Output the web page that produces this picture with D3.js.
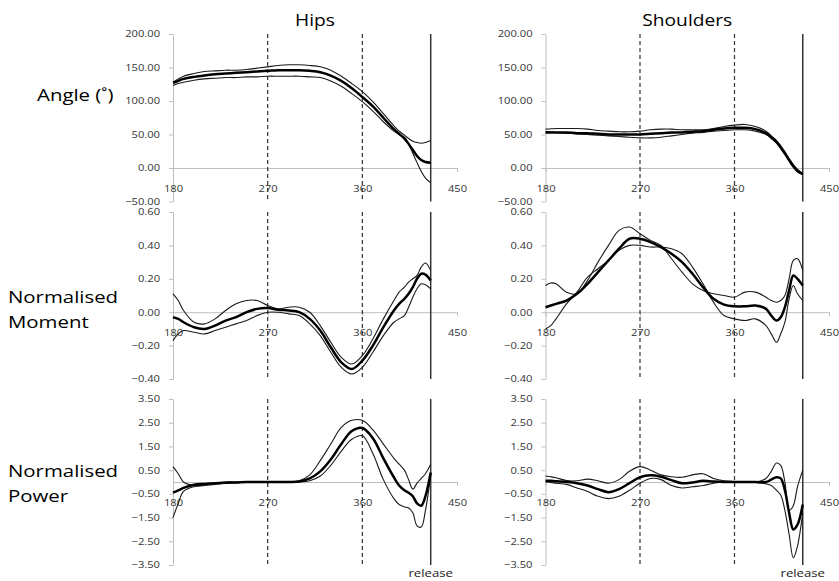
<!DOCTYPE html>
<html>
<head>
<meta charset="utf-8">
<script src="https://cdn.jsdelivr.net/npm/d3@7"></script>
<style>
  body { margin: 0; background: #fff; }
  text { font-family: "Open Sans", sans-serif; }
</style>
</head>
<body>
<div id="chart"></div>
<script>
// 曲柄角 (deg)
const phase = [180,185,190,200,210,220,230,240,250,260,270,280,290,300,310,320,330,340,350,360,370,380,390,395,400,404,408,412,416,420,425];

// 髋关节角度
const hipAngleMean  = [127,130,133,136,138,140,141,142,143,144,145,146,146,146,145,143,138,130,119,106,92,75,58,51,44,36,27,18,12,9,8];
const hipAngleUpper = [128,133,137,141,144,145,146,146,147,149,151,153,154,154,153,151,146,137,126,114,99,81,63,55,49,44,40,38,37,38,41];
const hipAngleLower = [123,126,128,131,133,134,135,135,136,136,137,137,137,137,136,135,130,122,111,99,85,69,55,50,46,36,22,8,-5,-15,-22];
// 肩关节角度
const shoulderAngleMean  = [53,53,53,53,52,52,51,50,50,50,50,51,52,53,53,54,55,57,59,60,60,58,52,46,39,31,22,12,3,-4,-9];
const shoulderAngleUpper = [58,58.5,59,59,59,58,56,55,54,54,55,57,58,58,57,57,57,59,62,64,65,62,55,48,41,33,24,14,5,-2,-8];
const shoulderAngleLower = [54,54,53,52,51,50,49,48,47,46,45,45,46,48,50,52,53,55,56,57,57,55,50,44,37,29,20,10,1,-6,-10];

// 髋关节力矩
const hipMomentMean  = [-0.03,-0.04,-0.06,-0.09,-0.10,-0.08,-0.05,-0.03,0.00,0.02,0.025,0.015,0.01,0.00,-0.04,-0.11,-0.21,-0.30,-0.34,-0.29,-0.20,-0.09,0.01,0.05,0.08,0.11,0.15,0.20,0.23,0.225,0.19];
const hipMomentUpper = [0.11,0.07,0.01,-0.06,-0.07,-0.04,0.01,0.05,0.07,0.07,0.04,0.02,0.03,0.03,0.00,-0.08,-0.18,-0.27,-0.31,-0.26,-0.16,-0.04,0.07,0.12,0.15,0.18,0.20,0.22,0.27,0.295,0.25];
const hipMomentLower = [-0.17,-0.13,-0.11,-0.12,-0.13,-0.11,-0.09,-0.07,-0.05,-0.02,0.00,0.00,-0.01,-0.02,-0.07,-0.14,-0.24,-0.33,-0.37,-0.33,-0.24,-0.14,-0.06,-0.04,-0.02,0.03,0.09,0.14,0.17,0.165,0.14];
// 肩关节力矩
const shoulderMomentMean  = [0.03,0.04,0.05,0.07,0.11,0.17,0.24,0.31,0.38,0.44,0.44,0.42,0.39,0.35,0.30,0.23,0.15,0.08,0.045,0.035,0.035,0.04,0.02,-0.02,-0.05,-0.03,0.03,0.13,0.22,0.20,0.16];
const shoulderMomentUpper = [0.16,0.175,0.17,0.12,0.11,0.19,0.30,0.40,0.49,0.51,0.47,0.43,0.40,0.32,0.24,0.17,0.13,0.11,0.10,0.09,0.12,0.12,0.09,0.07,0.06,0.07,0.10,0.20,0.31,0.32,0.25];
const shoulderMomentLower = [-0.10,-0.08,-0.04,0.05,0.12,0.21,0.26,0.31,0.37,0.40,0.40,0.39,0.39,0.38,0.35,0.27,0.17,0.06,-0.02,-0.04,-0.05,-0.04,-0.08,-0.13,-0.18,-0.13,-0.06,0.08,0.16,0.11,0.07];

// 髋关节功率
const hipPowerMean  = [-0.45,-0.35,-0.25,-0.12,-0.08,-0.05,-0.03,-0.02,0,0,0,0,0,0.02,0.15,0.45,0.95,1.6,2.15,2.28,1.85,1.0,0.2,-0.15,-0.35,-0.45,-0.6,-0.9,-1.0,-0.6,0.4];
const hipPowerUpper = [0.65,0.35,0.0,-0.15,-0.12,-0.05,0,0,0,0,0,0,0,0.05,0.3,0.9,1.6,2.3,2.6,2.6,2.2,1.6,1.0,0.75,0.5,0.1,-0.3,-0.05,0.15,0.35,0.75];
const hipPowerLower = [-1.5,-0.9,-0.4,-0.2,-0.15,-0.1,-0.05,-0.03,0,0,0,0,0,0,0.05,0.25,0.7,1.3,1.8,1.95,1.2,0.1,-0.7,-0.95,-1.05,-1.1,-1.3,-1.85,-1.9,-1.2,0.3];
// 肩关节功率
const shoulderPowerMean  = [0.05,0.05,0.03,0.0,-0.05,-0.15,-0.3,-0.43,-0.3,-0.05,0.2,0.28,0.22,0.08,-0.05,-0.02,0.05,0.02,0,0,0,0,0,0.1,0.2,0.15,-0.35,-1.3,-2.0,-1.8,-0.95];
const shoulderPowerUpper = [0.25,0.22,0.18,0.06,0.05,0.12,0.05,-0.05,0.1,0.45,0.65,0.5,0.3,0.22,0.2,0.3,0.35,0.15,0.05,0.02,0,0,0.15,0.45,0.8,0.7,0.0,-1.2,-1.0,-0.2,0.5];
const shoulderPowerLower = [0.0,-0.02,-0.05,-0.1,-0.25,-0.4,-0.6,-0.7,-0.6,-0.35,-0.05,0.15,0.1,-0.15,-0.25,-0.2,-0.15,-0.05,0,0,0,-0.02,-0.08,-0.15,-0.35,-0.55,-1.2,-2.2,-3.2,-2.7,-1.3];

// 刻度
const phaseTicks  = [180, 270, 360, 450];
const angleTicks  = [200, 150, 100, 50, 0, -50];
const momentTicks = [0.6, 0.4, 0.2, 0, -0.2, -0.4];
const powerTicks  = [3.5, 2.5, 1.5, 0.5, -0.5, -1.5, -2.5, -3.5];
const markerPhases = [270, 360];
const releasePhase = 425;

const columnTitles = ["Hips", "Shoulders"];
const rowTitles = [["Angle (˚)"], ["Normalised", "Moment"], ["Normalised", "Power"]];

class JointChart {
  constructor(containerId) {
    this.width = 839;
    this.height = 581;
    this.sx = 1.2; // 原图横向拉伸
    this.svg = d3.select(containerId).append("svg")
      .attr("width", this.width)
      .attr("height", this.height);

    this.cols = [{ x0: 173, x1: 457 }, { x0: 545.5, x1: 829 }];
    this.rows = [
      { top: 34, bottom: 201.5, domain: [-50, 200], ticks: angleTicks },
      { top: 212, bottom: 379, domain: [-0.4, 0.6], ticks: momentTicks },
      { top: 399, bottom: 565, domain: [-3.5, 3.5], ticks: powerTicks }
    ];
    this.series = [
      [[hipAngleMean, hipAngleUpper, hipAngleLower], [shoulderAngleMean, shoulderAngleUpper, shoulderAngleLower]],
      [[hipMomentMean, hipMomentUpper, hipMomentLower], [shoulderMomentMean, shoulderMomentUpper, shoulderMomentLower]],
      [[hipPowerMean, hipPowerUpper, hipPowerLower], [shoulderPowerMean, shoulderPowerUpper, shoulderPowerLower]]
    ];
    this.draw();
  }

  draw() {
    // 列标题
    columnTitles.forEach((t, i) => {
      const c = this.cols[i];
      this.svg.append("text")
        .attr("transform", `translate(${(c.x0 + c.x1) / 2},26) scale(${this.sx},1)`)
        .attr("text-anchor", "middle")
        .attr("font-size", "16px")
        .attr("fill", "#000")
        .text(t);
    });

    // 行标题
    const rowLabelPos = [{ x: 37, y: [101] }, { x: 8, y: [303, 328] }, { x: 8, y: [477, 502] }];
    rowTitles.forEach((lines, r) => {
      lines.forEach((line, k) => {
        this.svg.append("text")
          .attr("transform", `translate(${rowLabelPos[r].x},${rowLabelPos[r].y[k]}) scale(${this.sx},1)`)
          .attr("font-size", "17px")
          .attr("fill", "#000")
          .text(line);
      });
    });

    this.rows.forEach((row, r) => {
      this.cols.forEach((col, c) => {
        this.drawPanel(row, col, this.series[r][c], r === 2);
      });
    });
  }

  drawPanel(row, col, lines, showRelease) {
    const x = d3.scaleLinear().domain([180, 450]).range([col.x0, col.x1]);
    const y = d3.scaleLinear().domain(row.domain).range([row.bottom, row.top]);
    const g = this.svg.append("g");
    const fmt = d3.format(".2f");

    // y轴
    const yAxis = g.append("g")
      .attr("transform", `translate(${col.x0},0)`)
      .call(d3.axisLeft(y).tickValues(row.ticks).tickFormat(fmt).tickSize(4).tickSizeOuter(0).tickPadding(9));
    yAxis.select(".domain").attr("stroke", "#bfbfbf");
    yAxis.selectAll(".tick line").attr("stroke", "#bfbfbf");
    yAxis.selectAll(".tick text")
      .attr("x", -13 / this.sx)
      .attr("transform", `scale(${this.sx},1)`)
      .attr("font-size", "9.3px")
      .attr("font-family", "'Open Sans', sans-serif")
      .attr("fill", "#333");

    // x轴 (0 处)
    const xAxis = g.append("g")
      .attr("transform", `translate(0,${y(0)})`)
      .call(d3.axisBottom(x).tickValues(phaseTicks).tickFormat(d3.format("d")).tickSize(4).tickSizeOuter(0).tickPadding(13));
    xAxis.select(".domain").attr("stroke", "#bfbfbf");
    xAxis.selectAll(".tick line").attr("stroke", "#bfbfbf");
    xAxis.selectAll(".tick text")
      .attr("transform", `scale(${this.sx},1)`)
      .attr("font-size", "9.3px")
      .attr("font-family", "'Open Sans', sans-serif")
      .attr("fill", "#333");

    // 虚线标记
    g.selectAll(".marker")
      .data(markerPhases)
      .enter()
      .append("line")
      .attr("class", "marker")
      .attr("x1", d => x(d)).attr("x2", d => x(d))
      .attr("y1", row.top).attr("y2", row.bottom)
      .attr("stroke", "#333")
      .attr("stroke-width", 1.2)
      .attr("stroke-dasharray", "4,3");

    // release 线
    g.append("line")
      .attr("x1", x(releasePhase)).attr("x2", x(releasePhase))
      .attr("y1", row.top).attr("y2", row.bottom)
      .attr("stroke", "#333")
      .attr("stroke-width", 1.5);

    if (showRelease) {
      g.append("text")
        .attr("transform", `translate(${x(releasePhase)},577) scale(${this.sx},1)`)
        .attr("text-anchor", "middle")
        .attr("font-size", "11px")
        .attr("fill", "#222")
        .text("release");
    }

    // 曲线: 均值 (粗) 与 ±SD (细)
    const line = d3.line()
      .x((d, i) => x(phase[i]))
      .y(d => y(d))
      .curve(d3.curveCatmullRom.alpha(0.5));

    g.selectAll(".curve")
      .data([lines[1], lines[2], lines[0]])
      .enter()
      .append("path")
      .attr("class", "curve")
      .attr("d", d => line(d))
      .attr("fill", "none")
      .attr("stroke", (d, i) => i === 2 ? "#000" : "#1a1a1a")
      .attr("stroke-width", (d, i) => i === 2 ? 2.5 : 1.1);
  }
}

new JointChart("#chart");
</script>
</body>
</html>
